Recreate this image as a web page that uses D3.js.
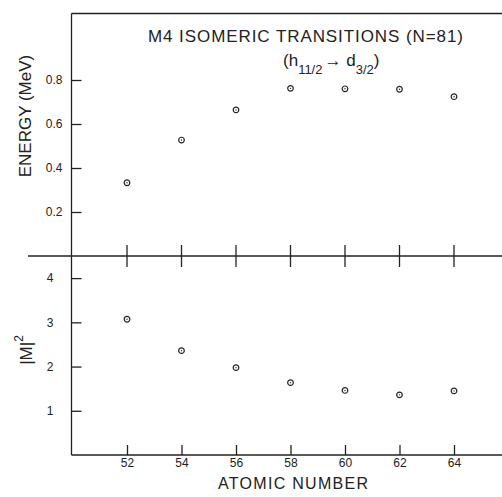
<!DOCTYPE html>
<html>
<head>
<meta charset="utf-8">
<script src="https://cdn.jsdelivr.net/npm/d3@7"></script>
<style>
  body { margin: 0; background: #fff; }
  svg { display: block; }
  text { font-family: "Liberation Sans", Arial, sans-serif; fill: #222; }
</style>
</head>
<body>
<div id="chart"></div>
<script>
// data
const atomicNumbers = [52, 54, 56, 58, 60, 62, 64];
const energies = [0.333, 0.527, 0.664, 0.762, 0.760, 0.758, 0.724];
const matrixSq = [3.07, 2.36, 1.975, 1.636, 1.46, 1.36, 1.45];
const energyTicks = [0.2, 0.4, 0.6, 0.8];
const mTicks = [1, 2, 3, 4];

const width = 502;
const height = 497;
const ink = '#222';

const svg = d3.select('#chart').append('svg')
  .attr('width', width)
  .attr('height', height);

// scales
const x = d3.scaleLinear().domain([50, 66]).range([72.5, 508.5]);
const yTop = d3.scaleLinear().domain([0, 1.1]).range([256, 14]);
const yBot = d3.scaleLinear().domain([0, 4.5]).range([455, 256]);

const axisX = 71.5;
const midY = yTop(0);
const botY = yBot(0);
const topY = 13.5;

// frame
const frame = svg.append('g')
  .attr('stroke', ink)
  .attr('stroke-width', 1.3)
  .attr('fill', 'none');
frame.append('line').attr('x1', axisX).attr('x2', axisX).attr('y1', topY).attr('y2', botY);
frame.append('line').attr('x1', axisX).attr('x2', width).attr('y1', topY).attr('y2', topY);
frame.append('line').attr('x1', 28).attr('x2', width).attr('y1', midY).attr('y2', midY);
frame.append('line').attr('x1', axisX).attr('x2', width).attr('y1', botY).attr('y2', botY);

// cross ticks on the middle line
frame.selectAll('.cross')
  .data(atomicNumbers)
  .enter().append('line')
  .attr('class', 'cross')
  .attr('x1', d => x(d)).attr('x2', d => x(d))
  .attr('y1', midY - 11).attr('y2', midY + 11);

// bottom axis, ticks pointing up
const xAxis = svg.append('g')
  .attr('transform', `translate(0,${botY})`)
  .call(d3.axisBottom(x).tickValues(atomicNumbers).tickSize(-10).tickPadding(3));
xAxis.select('.domain').remove();

// left axes, ticks pointing in
const topAxis = svg.append('g')
  .attr('transform', `translate(${axisX},0)`)
  .call(d3.axisLeft(yTop).tickValues(energyTicks).tickSize(-10).tickPadding(9)
    .tickFormat(d3.format('.1f')));
topAxis.select('.domain').remove();

const botAxis = svg.append('g')
  .attr('transform', `translate(${axisX},0)`)
  .call(d3.axisLeft(yBot).tickValues(mTicks).tickSize(-10).tickPadding(18)
    .tickFormat(d3.format('d')));
botAxis.select('.domain').remove();

svg.selectAll('.tick line').attr('stroke', ink).attr('stroke-width', 1.3);
svg.selectAll('.tick text')
  .attr('font-size', 12)
  .attr('fill', ink)
  .style('font-family', '"Liberation Sans", Arial, sans-serif');

// markers
const marker = (g, data, y) => {
  const pts = g.selectAll('g')
    .data(data)
    .enter().append('g')
    .attr('transform', (d, i) => `translate(${x(atomicNumbers[i])},${y(d)})`);
  pts.append('circle').attr('r', 2.8).attr('fill', '#fff')
    .attr('stroke', ink).attr('stroke-width', 1.2);
  pts.append('circle').attr('r', 0.7).attr('fill', ink);
};
marker(svg.append('g'), energies, yTop);
marker(svg.append('g'), matrixSq, yBot);

// title
svg.append('text')
  .attr('x', 148).attr('y', 42)
  .attr('font-size', 17)
  .attr('textLength', 315)
  .attr('lengthAdjust', 'spacing')
  .text('M4 ISOMERIC TRANSITIONS (N=81)');

const sub = svg.append('text')
  .attr('x', 283).attr('y', 66)
  .attr('font-size', 17);
sub.append('tspan').text('(h');
sub.append('tspan').attr('font-size', 13).attr('dy', 8).text('11/2');
sub.append('tspan').attr('dy', -8).attr('dx', 2).text('\u2192 d');
sub.append('tspan').attr('font-size', 13).attr('dy', 8).text('3/2');
sub.append('tspan').attr('dy', -8).text(')');

// axis titles
svg.append('text')
  .attr('transform', 'translate(31,116) rotate(-90)')
  .attr('text-anchor', 'middle')
  .attr('font-size', 17)
  .text('ENERGY (MeV)');

const mLabel = svg.append('text')
  .attr('transform', 'translate(32,350) rotate(-90)')
  .attr('text-anchor', 'middle')
  .attr('font-size', 17);
mLabel.append('tspan').text('|M|');
mLabel.append('tspan').attr('font-size', 12).attr('dy', -9).text('2');

svg.append('text')
  .attr('x', 293).attr('y', 489)
  .attr('text-anchor', 'middle')
  .attr('font-size', 16)
  .attr('textLength', 150)
  .attr('lengthAdjust', 'spacing')
  .text('ATOMIC NUMBER');
</script>
</body>
</html>
